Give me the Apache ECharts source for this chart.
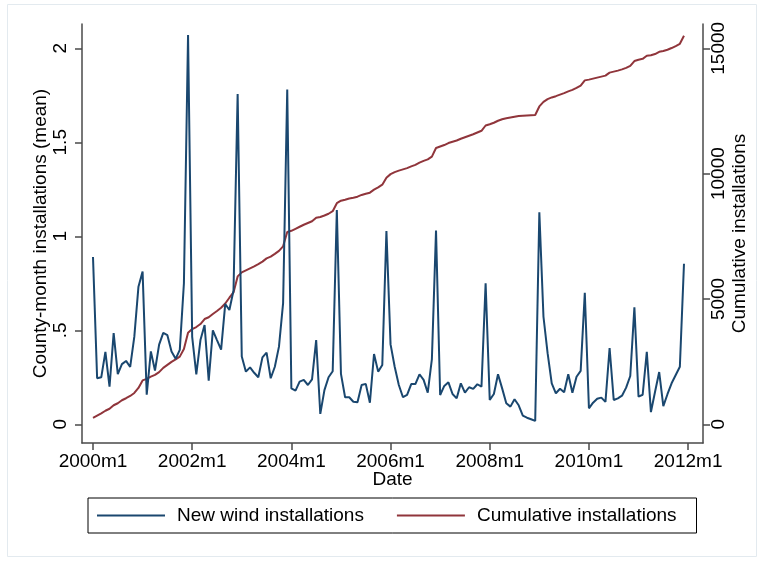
<!DOCTYPE html>
<html>
<head>
<meta charset="utf-8">
<script src="https://cdn.jsdelivr.net/npm/echarts@6/dist/echarts.min.js"></script>
<style>
  html, body { margin: 0; padding: 0; background: #ffffff; }
  #chart { width: 764px; height: 561px; }
</style>
</head>
<body>
<div id="chart"></div>
<script>
// Monthly series, January 2000 through December 2011 (one row per year)
const newInstalls = [
  0.89, 0.245, 0.25, 0.385, 0.2, 0.485, 0.267, 0.32, 0.337, 0.305, 0.466, 0.732,
  0.812, 0.157, 0.388, 0.286, 0.424, 0.486, 0.474, 0.387, 0.348, 0.396, 0.75, 2.07,
  0.465, 0.265, 0.448, 0.528, 0.232, 0.5, 0.448, 0.397, 0.64, 0.608, 0.712, 1.757,
  0.36, 0.28, 0.303, 0.274, 0.25, 0.356, 0.381, 0.245, 0.306, 0.413, 0.644, 1.78,
  0.191, 0.179, 0.227, 0.236, 0.209, 0.239, 0.448, 0.055, 0.182, 0.25, 0.282, 1.14,
  0.268, 0.144, 0.144, 0.12, 0.117, 0.209, 0.215, 0.115, 0.374, 0.28, 0.315, 1.028,
  0.425, 0.306, 0.209, 0.144, 0.156, 0.214, 0.214, 0.266, 0.236, 0.168, 0.346, 1.03,
  0.156, 0.204, 0.223, 0.161, 0.138, 0.218, 0.168, 0.197, 0.188, 0.213, 0.2, 0.75,
  0.13, 0.161, 0.266, 0.191, 0.112, 0.094, 0.133, 0.101, 0.046, 0.035, 0.027, 0.018,
  1.128, 0.572, 0.378, 0.218, 0.165, 0.189, 0.17, 0.266, 0.168, 0.253, 0.284, 0.70,
  0.085, 0.115, 0.136, 0.142, 0.119, 0.406, 0.129, 0.138, 0.152, 0.195, 0.257, 0.622,
  0.147, 0.157, 0.385, 0.065, 0.173, 0.278, 0.097, 0.16, 0.218, 0.262, 0.306, 0.854
];

const cumulative = [
  260, 350, 440, 540, 620, 760, 840, 960, 1040, 1130, 1250, 1450,
  1750, 1810, 1900, 1970, 2080, 2250, 2370, 2490, 2590, 2700, 3000, 3650,
  3800, 3880, 4000, 4200, 4270, 4400, 4520, 4650, 4820, 5050, 5260, 5900,
  6060, 6140, 6220, 6300, 6390, 6490, 6620, 6690, 6800, 6920, 7100, 7670,
  7720, 7800, 7880, 7960, 8030, 8100, 8240, 8270, 8330, 8400, 8500, 8820,
  8920, 8960, 9010, 9040, 9080, 9150, 9200, 9240, 9360, 9450, 9560, 9840,
  9980, 10060, 10120, 10170, 10220, 10290, 10350, 10440, 10510, 10570, 10680, 11020,
  11080, 11140, 11220, 11270, 11320, 11390, 11450, 11510, 11570, 11640, 11710, 11920,
  11970, 12030, 12110, 12170, 12210, 12240, 12270, 12300, 12310, 12320, 12330, 12340,
  12680, 12860, 12970, 13040, 13090, 13150, 13210, 13280, 13340, 13420, 13510, 13720,
  13750, 13790, 13830, 13870, 13910, 14030, 14070, 14110, 14160, 14220, 14300, 14490,
  14540, 14580, 14700, 14720, 14770, 14860, 14890, 14940, 15010, 15090, 15180, 15500
];

// Axis ticks
const dateTickLabels = ['2000m1', '2002m1', '2004m1', '2006m1', '2008m1', '2010m1', '2012m1'];
const leftTicks = [0, 0.5, 1, 1.5, 2];
const leftTickLabels = ['0', '.5', '1', '1.5', '2'];
const rightTicks = [0, 5000, 10000, 15000];
const rightTickLabels = ['0', '5000', '10000', '15000'];

const seriesNames = ['New wind installations', 'Cumulative installations'];

// Months are placed on a numeric axis: 0 = 2000m1
const dateTickPositions = dateTickLabels.map(function (s) {
  const parts = s.split('m');
  return (parseInt(parts[0], 10) - 2000) * 12 + parseInt(parts[1], 10) - 1;
});
const newData = newInstalls.map(function (v, i) { return [i, v]; });
const cumData = cumulative.map(function (v, i) { return [i, v]; });

const FONT = '"Liberation Sans", Arial, Helvetica, sans-serif';
const AXIS_COLOR = '#4a4a4a';
const BLUE = '#1a476f';
const RED = '#90353b';

function pickLabel(values, labels) {
  return function (v) {
    for (let k = 0; k < values.length; k++) {
      if (Math.abs(values[k] - v) < 1e-6) return labels[k];
    }
    return '';
  };
}

const chart = echarts.init(document.getElementById('chart'), null, { renderer: 'canvas' });

chart.setOption({
  animation: false,
  backgroundColor: '#ffffff',
  textStyle: { fontFamily: FONT },
  graphic: [{
    type: 'rect',
    shape: { x: 7.5, y: 4.5, width: 749, height: 552 },
    style: { fill: 'none', stroke: '#e3eaef', lineWidth: 1 },
    silent: true,
    z: -1
  }],
  grid: { left: 82, right: 61, top: 24, bottom: 118, containLabel: false },
  legend: {
    show: true,
    left: 88,
    top: 498,
    orient: 'horizontal',
    data: seriesNames,
    icon: 'rect',
    itemWidth: 68,
    itemHeight: 2,
    itemGap: 33,
    padding: [8, 20, 8, 9],
    borderColor: '#000000',
    borderWidth: 1,
    borderRadius: 0,
    textStyle: { fontFamily: FONT, fontSize: 19, color: '#000000', padding: [0, 0, 0, 7] }
  },
  xAxis: {
    type: 'value',
    min: -2.66,
    max: 147.6,
    name: 'Date',
    nameLocation: 'middle',
    nameGap: 27,
    nameMoveOverlap: false,
    nameTextStyle: { fontFamily: FONT, fontSize: 19, color: '#000000' },
    splitLine: { show: false },
    axisLine: { show: true, onZero: false, lineStyle: { color: AXIS_COLOR, width: 1.5 } },
    axisTick: { show: true, length: 7, customValues: dateTickPositions, lineStyle: { color: AXIS_COLOR, width: 1.5 } },
    axisLabel: {
      customValues: dateTickPositions,
      fontFamily: FONT, fontSize: 19, color: '#000000', margin: 9,
      formatter: pickLabel(dateTickPositions, dateTickLabels)
    }
  },
  yAxis: [{
    type: 'value',
    position: 'left',
    min: -0.0995,
    max: 2.129,
    name: 'County-month installations (mean)',
    nameLocation: 'middle',
    nameRotate: 90,
    nameGap: 32,
    nameMoveOverlap: false,
    nameTextStyle: { fontFamily: FONT, fontSize: 19, color: '#000000' },
    splitLine: { show: false },
    axisLine: { show: true, onZero: false, lineStyle: { color: AXIS_COLOR, width: 1.5 } },
    axisTick: { show: true, length: 7, customValues: leftTicks, lineStyle: { color: AXIS_COLOR, width: 1.5 } },
    axisLabel: {
      customValues: leftTicks,
      rotate: 90,
      fontFamily: FONT, fontSize: 19, color: '#000000', margin: 12,
      formatter: pickLabel(leftTicks, leftTickLabels)
    }
  }, {
    type: 'value',
    position: 'right',
    min: -746,
    max: 15969,
    name: 'Cumulative installations',
    nameLocation: 'middle',
    nameRotate: 90,
    nameGap: 27,
    nameMoveOverlap: false,
    nameTextStyle: { fontFamily: FONT, fontSize: 19, color: '#000000' },
    splitLine: { show: false },
    axisLine: { show: true, onZero: false, lineStyle: { color: AXIS_COLOR, width: 1.5 } },
    axisTick: { show: true, length: 7, customValues: rightTicks, lineStyle: { color: AXIS_COLOR, width: 1.5 } },
    axisLabel: {
      customValues: rightTicks,
      rotate: 90,
      fontFamily: FONT, fontSize: 19, color: '#000000', margin: 6,
      formatter: pickLabel(rightTicks, rightTickLabels)
    }
  }],
  series: [{
    name: seriesNames[0],
    type: 'line',
    yAxisIndex: 0,
    data: newData,
    showSymbol: false,
    symbol: 'none',
    color: BLUE,
    lineStyle: { color: BLUE, width: 2 },
    z: 3
  }, {
    name: seriesNames[1],
    type: 'line',
    yAxisIndex: 1,
    data: cumData,
    showSymbol: false,
    symbol: 'none',
    color: RED,
    lineStyle: { color: RED, width: 2 },
    z: 2
  }]
});
</script>
</body>
</html>
